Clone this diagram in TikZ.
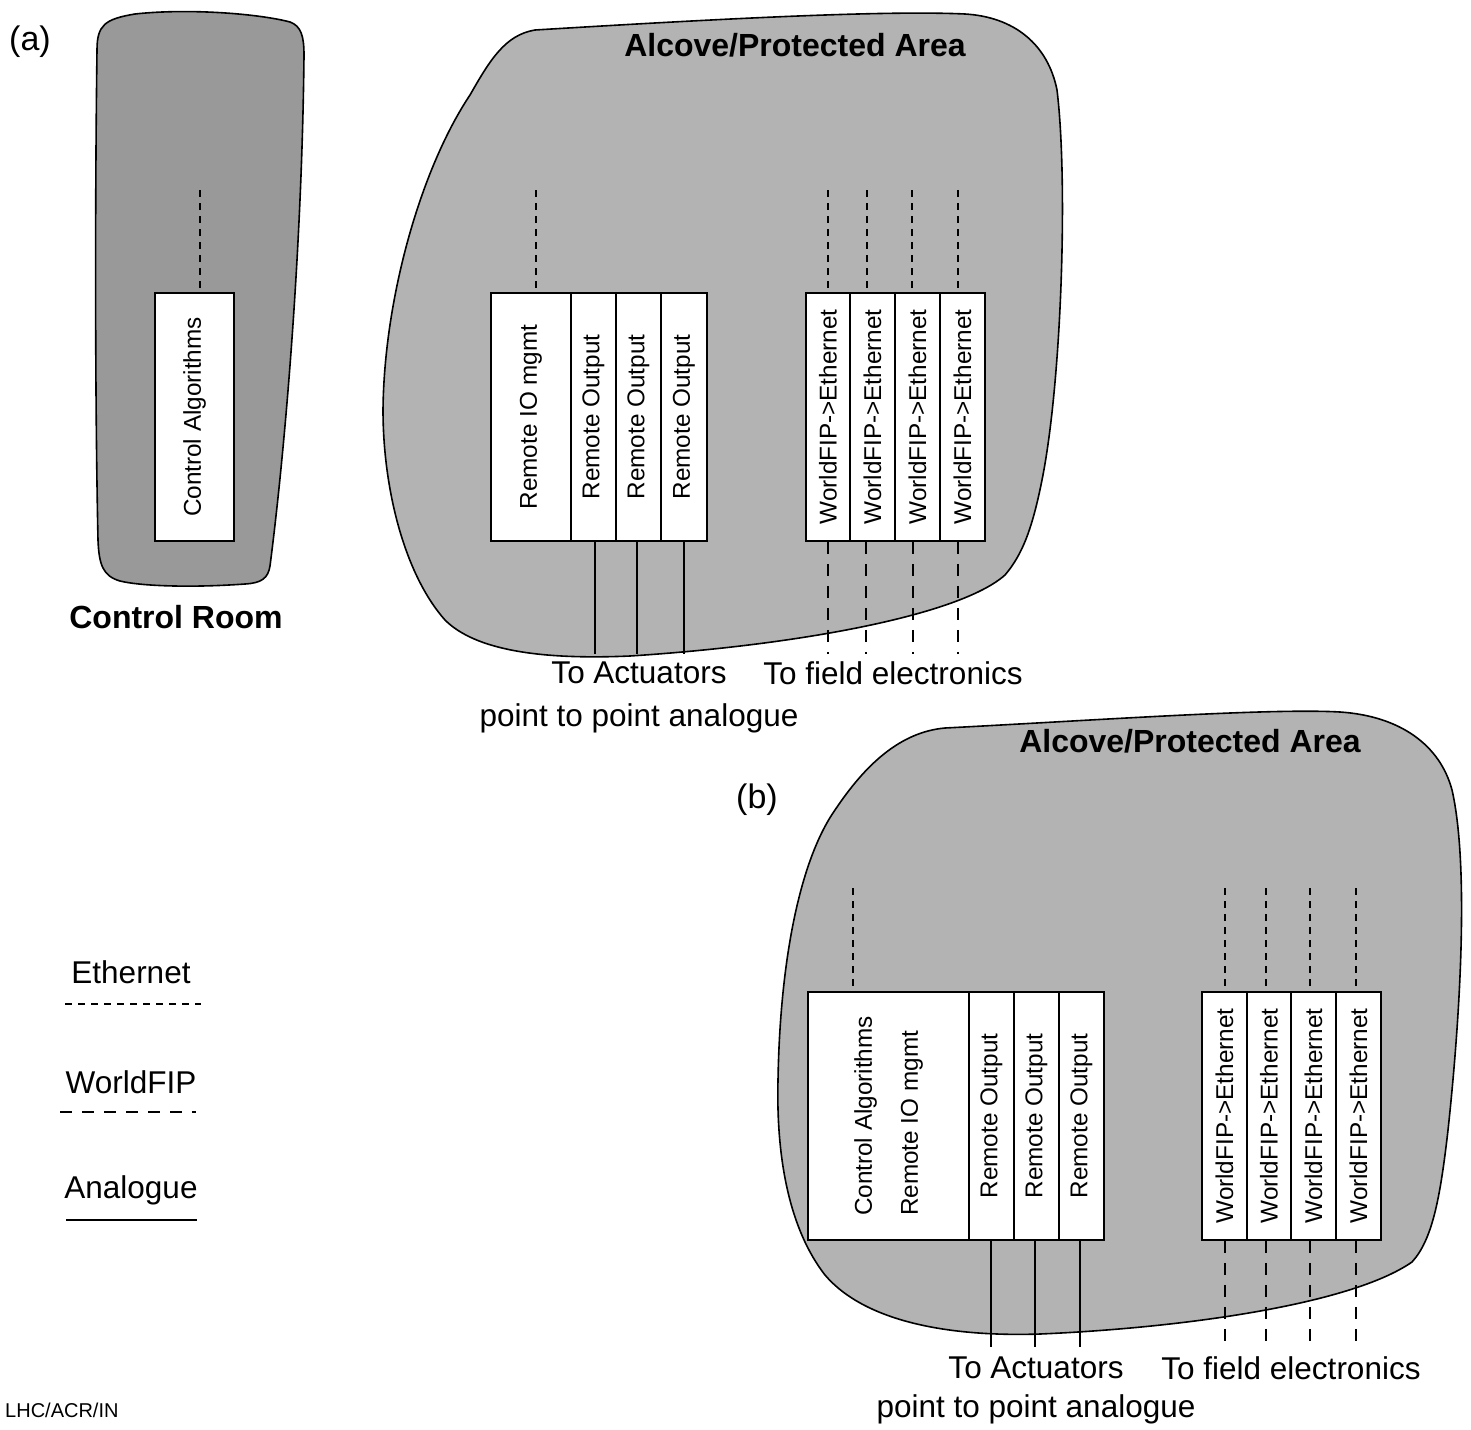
\documentclass[tikz,border=0pt]{standalone}
\usepackage{fontspec}
\setmainfont{Liberation Sans}
\definecolor{darkblob}{HTML}{999999}
\definecolor{lightblob}{HTML}{B3B3B3}
\begin{document}
\begin{tikzpicture}[x=1pt,y=-1pt,
  blob/.style={draw=black, line width=1.6pt},
  box/.style={draw=black, line width=1.8pt, fill=white, inner sep=0pt, minimum height=248pt},
  ethline/.style={line width=1.5pt, dash pattern=on 7pt off 6pt},
  fipline/.style={line width=1.8pt, dash pattern=on 12pt off 10pt},
  anline/.style={line width=1.8pt},
  bigtxt/.style={font=\fontsize{31.5}{36}\selectfont, inner sep=0pt},
  lbltxt/.style={font=\fontsize{34}{40}\selectfont, inner sep=0pt},
  titletxt/.style={font=\fontsize{32}{38}\selectfont\bfseries, inner sep=0pt},
  smalltxt/.style={font=\fontsize{20}{24}\selectfont, inner sep=0pt}
]
\newcommand{\vtxt}[1]{\rotatebox{90}{\fontsize{24.3}{28}\selectfont #1}}
\useasboundingbox (0,0) rectangle (1471,1429);

% ---------------- panel (a) ----------------
\node[lbltxt] (lblA) at (30,42) {(a)};

% Control room blob
\draw[blob, fill=darkblob] (97,50) .. controls (97,25) and (105,19) .. (135,14)
  .. controls (190,8) and (260,14) .. (290,22)
  .. controls (301,26) and (304,36) .. (304,55)
  .. controls (302,250) and (285,450) .. (270,566)
  .. controls (268,578) and (262,583) .. (245,584)
  .. controls (190,588) and (140,586) .. (120,581)
  .. controls (103,576) and (99,565) .. (98,540)
  .. controls (95,400) and (95,200) .. (97,50) -- cycle;
\node[titletxt] (crlbl) at (176,617) {Control Room};

% Alcove (a) blob
\draw[blob, fill=lightblob] (535,30) .. controls (700,20) and (880,10) .. (965,14)
  .. controls (1015,17) and (1048,45) .. (1057,90)
  .. controls (1068,180) and (1062,380) .. (1042,480)
  .. controls (1032,530) and (1022,555) .. (1005,575)
  .. controls (960,615) and (800,645) .. (630,656)
  .. controls (540,660) and (475,650) .. (445,620)
  .. controls (405,575) and (383,490) .. (383,410)
  .. controls (384,300) and (420,170) .. (470,95)
  .. controls (490,60) and (505,35) .. (535,30) -- cycle;
\node[titletxt] (alcA) at (795,45) {Alcove/Protected Area};

% boxes (a)
\node[box, minimum width=79pt] (ca) at (194.5,417) {\vtxt{Control Algorithms}};
\node[box, minimum width=80pt] (rio) at (531,417) {\vtxt{Remote IO mgmt}};
\node[box, minimum width=45pt] (ro1) at (593.5,417) {\vtxt{Remote Output}};
\node[box, minimum width=45pt] (ro2) at (638.5,417) {\vtxt{Remote Output}};
\node[box, minimum width=46pt] (ro3) at (684,417) {\vtxt{Remote Output}};
\node[box, minimum width=44pt] (wf1) at (828,417) {\vtxt{WorldFIP->Ethernet}};
\node[box, minimum width=45pt] (wf2) at (872.5,417) {\vtxt{WorldFIP->Ethernet}};
\node[box, minimum width=45pt] (wf3) at (917.5,417) {\vtxt{WorldFIP->Ethernet}};
\node[box, minimum width=45pt] (wf4) at (962.5,417) {\vtxt{WorldFIP->Ethernet}};

% ethernet lines (a)
\coordinate (ea0) at (200,190);
\coordinate (ea1) at (536,190);
\coordinate (ea2) at (828,190);
\coordinate (ea3) at (867,190);
\coordinate (ea4) at (912,190);
\coordinate (ea5) at (958,190);
\draw[ethline] (ea0) -- (ea0 |- ca.north);
\draw[ethline] (ea1) -- (ea1 |- rio.north);
\draw[ethline] (ea2) -- (ea2 |- wf1.north);
\draw[ethline] (ea3) -- (ea3 |- wf2.north);
\draw[ethline] (ea4) -- (ea4 |- wf3.north);
\draw[ethline] (ea5) -- (ea5 |- wf4.north);

% analogue lines (a)
\coordinate (aa1) at (595,654);
\coordinate (aa2) at (637,654);
\coordinate (aa3) at (684,654);
\draw[anline] (aa1 |- ro1.south) -- (aa1);
\draw[anline] (aa2 |- ro2.south) -- (aa2);
\draw[anline] (aa3 |- ro3.south) -- (aa3);

% worldfip lines (a)
\coordinate (fa1) at (828,654);
\coordinate (fa2) at (866,654);
\coordinate (fa3) at (913,654);
\coordinate (fa4) at (958,654);
\draw[fipline] (fa1 |- wf1.south) -- (fa1);
\draw[fipline] (fa2 |- wf2.south) -- (fa2);
\draw[fipline] (fa3 |- wf3.south) -- (fa3);
\draw[fipline] (fa4 |- wf4.south) -- (fa4);

\node[bigtxt] (actA) at (639,673) {To Actuators};
\node[bigtxt] (fieldA) at (893,673) {To field electronics};
\node[bigtxt] (p2pA) at (639,718) {point to point analogue};

% ---------------- panel (b) ----------------
\draw[blob, fill=lightblob] (945,728) .. controls (1100,720) and (1270,708) .. (1340,712)
  .. controls (1400,716) and (1440,745) .. (1452,790)
  .. controls (1468,860) and (1462,1000) .. (1448,1130)
  .. controls (1440,1200) and (1432,1240) .. (1412,1262)
  .. controls (1350,1305) and (1180,1328) .. (1040,1334)
  .. controls (950,1337) and (865,1322) .. (825,1275)
  .. controls (790,1230) and (776,1160) .. (778,1080)
  .. controls (780,960) and (800,860) .. (835,810)
  .. controls (865,765) and (900,732) .. (945,728) -- cycle;
\node[titletxt] (alcB) at (1190,741) {Alcove/Protected Area};
\node[lbltxt] (lblB) at (757,800) {(b)};

\node[box, minimum width=161pt] (carb) at (888.5,1116) {\vtxt{Control Algorithms}\hspace{24pt}\vtxt{Remote IO mgmt}};
\node[box, minimum width=45pt] (rb1) at (991.5,1116) {\vtxt{Remote Output}};
\node[box, minimum width=45pt] (rb2) at (1036.5,1116) {\vtxt{Remote Output}};
\node[box, minimum width=45pt] (rb3) at (1081.5,1116) {\vtxt{Remote Output}};
\node[box, minimum width=45pt] (wb1) at (1224.5,1116) {\vtxt{WorldFIP->Ethernet}};
\node[box, minimum width=44pt] (wb2) at (1269,1116) {\vtxt{WorldFIP->Ethernet}};
\node[box, minimum width=45pt] (wb3) at (1313.5,1116) {\vtxt{WorldFIP->Ethernet}};
\node[box, minimum width=45pt] (wb4) at (1358.5,1116) {\vtxt{WorldFIP->Ethernet}};

\coordinate (eb1) at (853,888);
\coordinate (eb2) at (1225,888);
\coordinate (eb3) at (1266,888);
\coordinate (eb4) at (1310,888);
\coordinate (eb5) at (1356,888);
\draw[ethline] (eb1) -- (eb1 |- carb.north);
\draw[ethline] (eb2) -- (eb2 |- wb1.north);
\draw[ethline] (eb3) -- (eb3 |- wb2.north);
\draw[ethline] (eb4) -- (eb4 |- wb3.north);
\draw[ethline] (eb5) -- (eb5 |- wb4.north);

\coordinate (ab1) at (991,1347);
\coordinate (ab2) at (1035,1347);
\coordinate (ab3) at (1080,1347);
\draw[anline] (ab1 |- rb1.south) -- (ab1);
\draw[anline] (ab2 |- rb2.south) -- (ab2);
\draw[anline] (ab3 |- rb3.south) -- (ab3);

\coordinate (fb1) at (1225,1347);
\coordinate (fb2) at (1266,1347);
\coordinate (fb3) at (1310,1347);
\coordinate (fb4) at (1356,1347);
\draw[fipline] (fb1 |- wb1.south) -- (fb1);
\draw[fipline] (fb2 |- wb2.south) -- (fb2);
\draw[fipline] (fb3 |- wb3.south) -- (fb3);
\draw[fipline] (fb4 |- wb4.south) -- (fb4);

\node[bigtxt] (actB) at (1036,1368) {To Actuators};
\node[bigtxt] (fieldB) at (1291,1368) {To field electronics};
\node[bigtxt] (p2pB) at (1036,1409) {point to point analogue};

% ---------------- legend ----------------
\node[bigtxt] (legE) at (131,972) {Ethernet};
\coordinate (le1) at (65,1004); \coordinate (le2) at (201,1004);
\draw[ethline] (le1) -- (le2);
\node[bigtxt] (legW) at (131,1082) {WorldFIP};
\coordinate (lw1) at (60,1112); \coordinate (lw2) at (196,1112);
\draw[fipline] (lw1) -- (lw2);
\node[bigtxt] (legA) at (131,1190) {Analogue};
\coordinate (la1) at (66,1220); \coordinate (la2) at (197,1220);
\draw[anline] (la1) -- (la2);

\node[smalltxt, anchor=west] (ref) at (5,1410) {LHC/ACR/IN};
\end{tikzpicture}
\end{document}
